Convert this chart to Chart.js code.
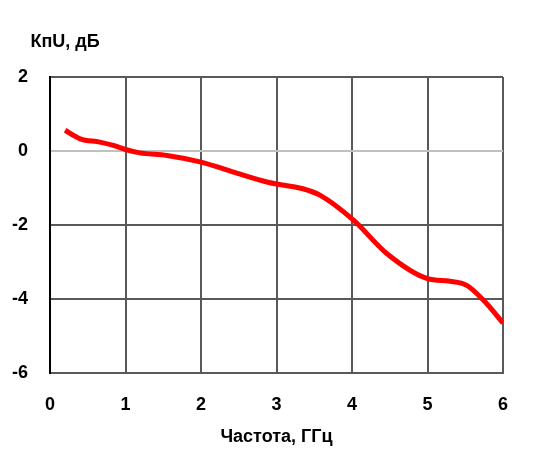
<!DOCTYPE html>
<html>
<head>
<meta charset="utf-8">
<script src="https://cdn.jsdelivr.net/npm/chart.js@4"></script>
<style>
    body { margin: 0; background: #fff; }
    #wrap { width: 540px; height: 458px; }
</style>
</head>
<body>
<div id="wrap"><canvas id="chart" width="540" height="458"></canvas></div>
<script>
// Gain vs frequency
const freqGHz = [0.2, 0.4, 0.66, 0.84, 1.0, 1.19, 1.55, 2.0, 2.43, 2.9, 3.35, 3.58, 4.02, 4.46, 5.0, 5.3, 5.52, 5.74, 6.0];
const gainDb = [0.56, 0.33, 0.24, 0.15, 0.04, -0.05, -0.12, -0.3, -0.57, -0.85, -1.02, -1.2, -1.87, -2.77, -3.45, -3.52, -3.63, -4.03, -4.65];

const xTitle = 'Частота, ГГц';
const yTitle = 'КпU, дБ';

const FONT = { family: "'Liberation Sans', Arial, sans-serif", size: 18, weight: 'bold' };
const GRID = '#595959';

// y-axis caption sits above the plot, not rotated
const yCaption = {
    id: 'yCaption',
    afterDraw(chart) {
        const ctx = chart.ctx;
        ctx.save();
        ctx.font = `bold ${FONT.size}px ${FONT.family}`;
        ctx.fillStyle = '#000';
        ctx.textAlign = 'center';
        ctx.textBaseline = 'middle';
        ctx.fillText(yTitle, chart.chartArea.left + 15, 42);
        ctx.restore();
    }
};

new Chart(document.getElementById('chart'), {
    type: 'line',
    data: {
        datasets: [{
            data: freqGHz.map((f, i) => ({ x: f, y: gainDb[i] })),
            borderColor: '#ff0000',
            borderWidth: 5,
            pointRadius: 0,
            tension: 0.4,
            cubicInterpolationMode: 'monotone',
            fill: false
        }]
    },
    options: {
        responsive: false,
        animation: false,
        devicePixelRatio: 1,
        layout: { padding: { top: 77, right: 37, left: 0, bottom: 0 } },
        plugins: { legend: { display: false }, tooltip: { enabled: false } },
        scales: {
            x: {
                type: 'linear',
                min: 0,
                max: 6,
                afterFit: s => { s.height = 85; },
                ticks: { stepSize: 1, color: '#000', font: FONT, padding: 21 },
                grid: { color: GRID, lineWidth: 2, drawTicks: false },
                border: { color: GRID, width: 2 },
                title: { display: true, text: xTitle, color: '#000', font: FONT, padding: { top: 0, bottom: 10 } }
            },
            y: {
                min: -6,
                max: 2,
                afterFit: s => { s.width = 50; },
                ticks: { stepSize: 2, color: '#000', font: FONT, padding: 22 },
                grid: {
                    color: c => c.tick && c.tick.value === 0 ? '#c0c0c0' : GRID,
                    lineWidth: 2,
                    drawTicks: false
                },
                border: { color: '#000', width: 2 }
            }
        }
    },
    plugins: [yCaption]
});
</script>
</body>
</html>
